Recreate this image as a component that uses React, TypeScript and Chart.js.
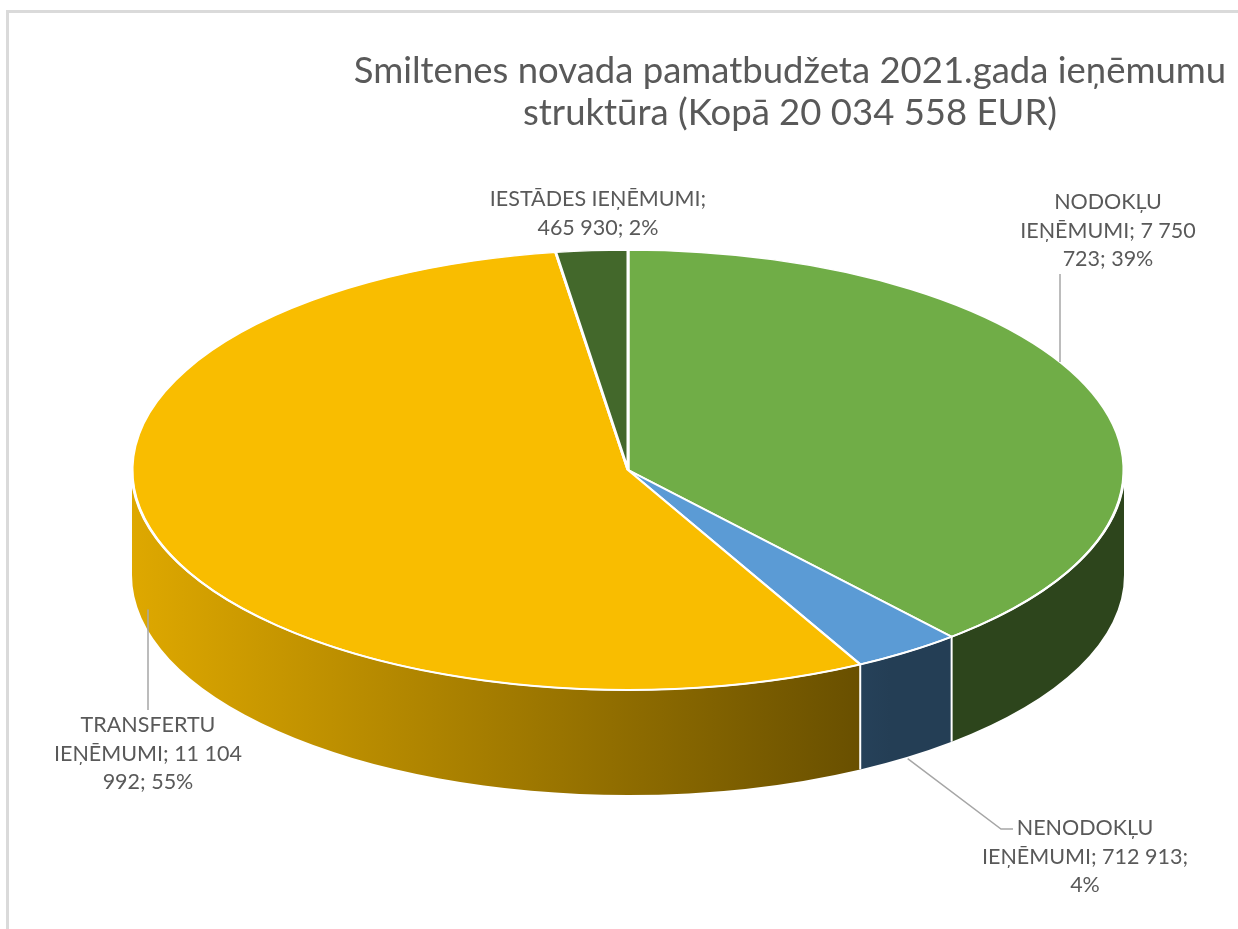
import React, { useEffect, useRef } from 'react';
import { Chart, registerables } from 'chart.js';

Chart.register(...registerables);

const categories = ['NODOKĻU IEŅĒMUMI', 'NENODOKĻU IEŅĒMUMI', 'TRANSFERTU IEŅĒMUMI', 'IESTĀDES IEŅĒMUMI'];
const values = [7750723, 712913, 11104992, 465930];
const colors = ['#70AD47', '#5B9BD5', '#F9BD00', '#43682B'];
const titleLines = ['Smiltenes novada pamatbudžeta 2021.gada ieņēmumu', 'struktūra (Kopā 20 034 558 EUR)'];

// 3d look
const TILT = 0.4435;
const DEPTH = 105;
const RADIUS = 496;

// where the data labels sit (page px): centre x, first baseline, wrap width, leader end
const labelLayout = [
    { x: 1108, y: 209, wrap: 195, end: [1060, 274] },
    { x: 1085, y: 835, wrap: 215, end: [1013, 829], elbow: [1001, 829] },
    { x: 148, y: 732, wrap: 212, end: [148, 710] },
    { x: 598, y: 206, wrap: 235, end: null },
];

const TEXT_COLOR = '#595959';
const FONT = 'Lato, "Open Sans", sans-serif';

const shade = (hex: string, f: number) => {
    const n = parseInt(hex.slice(1), 16);
    const r = Math.round(((n >> 16) & 255) * f);
    const g = Math.round(((n >> 8) & 255) * f);
    const b = Math.round((n & 255) * f);
    return `rgb(${r},${g},${b})`;
};

const fmt = (v: number) => String(v).replace(/\B(?=(\d{3})+(?!\d))/g, ' ');

const wrap = (ctx: CanvasRenderingContext2D, text: string, maxW: number) => {
    const words = text.split(' ');
    const lines: string[] = [];
    let cur = '';
    words.forEach(w => {
        const test = cur ? cur + ' ' + w : w;
        if (cur && ctx.measureText(test).width > maxW) {
            lines.push(cur);
            cur = w;
        } else {
            cur = test;
        }
    });
    if (cur) lines.push(cur);
    return lines;
};

const pie3d = {
    id: 'pie3d',
    beforeDraw(chart: any) {
        // chart frame, only the left and top edges are inside the picture
        const ctx: CanvasRenderingContext2D = chart.ctx;
        ctx.save();
        ctx.strokeStyle = '#dadada';
        ctx.lineWidth = 3;
        ctx.beginPath();
        ctx.moveTo(7.5, chart.height + 10);
        ctx.lineTo(7.5, 11.5);
        ctx.lineTo(chart.width + 10, 11.5);
        ctx.stroke();
        ctx.restore();
    },
    beforeDatasetsDraw(chart: any) {
        const ctx: CanvasRenderingContext2D = chart.ctx;
        const arcs = chart.getDatasetMeta(0).data;
        const { x: cx, y: cy, outerRadius: r } = arcs[0];
        const ry = r * TILT;

        ctx.save();
        arcs.forEach((arc: any, i: number) => {
            const a1 = Math.max(arc.startAngle, 0);
            const a2 = Math.min(arc.endAngle, Math.PI);
            if (a1 >= a2) return;
            const g = ctx.createLinearGradient(cx - r, 0, cx + 0.53 * r, 0);
            g.addColorStop(0, shade(colors[i], 0.89));
            g.addColorStop(1, shade(colors[i], 0.4));
            ctx.beginPath();
            ctx.ellipse(cx, cy, r, ry, 0, a1, a2);
            ctx.ellipse(cx, cy + DEPTH, r, ry, 0, a2, a1, true);
            ctx.closePath();
            ctx.fillStyle = g;
            ctx.fill();
        });
        // seams on the side wall
        ctx.strokeStyle = '#ffffff';
        ctx.lineWidth = 2;
        arcs.forEach((arc: any) => {
            const a = arc.startAngle;
            if (a > 0 && a < Math.PI) {
                const x = cx + r * Math.cos(a);
                const y = cy + ry * Math.sin(a);
                ctx.beginPath();
                ctx.moveTo(x, y);
                ctx.lineTo(x, y + DEPTH);
                ctx.stroke();
            }
        });
        ctx.restore();

        ctx.save();
        ctx.translate(0, cy);
        ctx.scale(1, TILT);
        ctx.translate(0, -cy);
    },
    afterDatasetsDraw(chart: any) {
        const ctx: CanvasRenderingContext2D = chart.ctx;
        ctx.restore();
        const arcs = chart.getDatasetMeta(0).data;
        const { x: cx, y: cy, outerRadius: r } = arcs[0];
        // white rim on the front edge
        ctx.save();
        ctx.strokeStyle = '#ffffff';
        ctx.lineWidth = 2;
        ctx.beginPath();
        ctx.ellipse(cx, cy, r, r * TILT, 0, 0, Math.PI);
        ctx.stroke();
        ctx.restore();
    },
    afterDraw(chart: any) {
        const ctx: CanvasRenderingContext2D = chart.ctx;
        const arcs = chart.getDatasetMeta(0).data;
        const { x: cx, y: cy, outerRadius: r } = arcs[0];
        const ry = r * TILT;
        const total = values.reduce((a, b) => a + b, 0);

        ctx.save();
        ctx.fillStyle = TEXT_COLOR;
        ctx.textAlign = 'center';
        ctx.textBaseline = 'alphabetic';
        ctx.font = `36.5px ${FONT}`;
        titleLines.forEach((t, i) => ctx.fillText(t, 790, 83 + i * 42));

        ctx.font = `21.5px ${FONT}`;
        arcs.forEach((arc: any, i: number) => {
            const L = labelLayout[i];
            const text = `${categories[i]}; ${fmt(values[i])}; ${Math.round((values[i] / total) * 100)}%`;
            const lines = wrap(ctx, text, L.wrap);
            lines.forEach((ln, j) => ctx.fillText(ln, L.x, L.y + j * 28.5));

            if (L.end) {
                const mid = (arc.startAngle + arc.endAngle) / 2;
                const front = Math.sin(mid) > 0;
                let ax = cx + r * Math.cos(mid);
                let ay = cy + ry * Math.sin(mid) + (front ? DEPTH + 2 : 0);
                if (!L.elbow) {
                    // straight drop onto the pie edge below/above the label
                    ax = L.end[0];
                    const c = (ax - cx) / r;
                    const s = Math.sqrt(Math.max(0, 1 - c * c));
                    ay = front ? cy + ry * s + DEPTH * 0.8 : cy - ry * s;
                }
                ctx.strokeStyle = '#A6A6A6';
                ctx.lineWidth = 1.5;
                ctx.beginPath();
                ctx.moveTo(ax, ay);
                if (L.elbow) ctx.lineTo(L.elbow[0], L.elbow[1]);
                ctx.lineTo(L.end[0], L.end[1]);
                ctx.stroke();
            }
        });
        ctx.restore();
    },
};

const PieChart3D = () => {
    const chartRef = useRef<HTMLCanvasElement | null>(null);

    useEffect(() => {
        const ctx = chartRef.current?.getContext('2d');
        if (!ctx) return;
        const chart = new Chart(ctx, {
            type: 'pie',
            data: {
                labels: categories,
                datasets: [{
                    data: values,
                    backgroundColor: colors,
                    borderColor: '#ffffff',
                    borderWidth: 3,
                    radius: RADIUS,
                } as any],
            },
            options: {
                responsive: false,
                animation: false,
                events: [],
                layout: { padding: { left: 18, right: 0, top: 11, bottom: 0 } },
                plugins: {
                    legend: { display: false },
                    tooltip: { enabled: false },
                    title: { display: false },
                },
            },
            plugins: [pie3d],
        });
        return () => chart.destroy();
    }, []);

    return (
        <div style={{ position: 'fixed', left: 0, top: 0, width: '100vw', height: '100vh', overflow: 'hidden', background: '#fff' }}>
            <canvas ref={chartRef} width={1238} height={929} style={{ position: 'absolute', left: 0, top: 0 }} />
        </div>
    );
};

export default function App() {
    return <PieChart3D />;
}
